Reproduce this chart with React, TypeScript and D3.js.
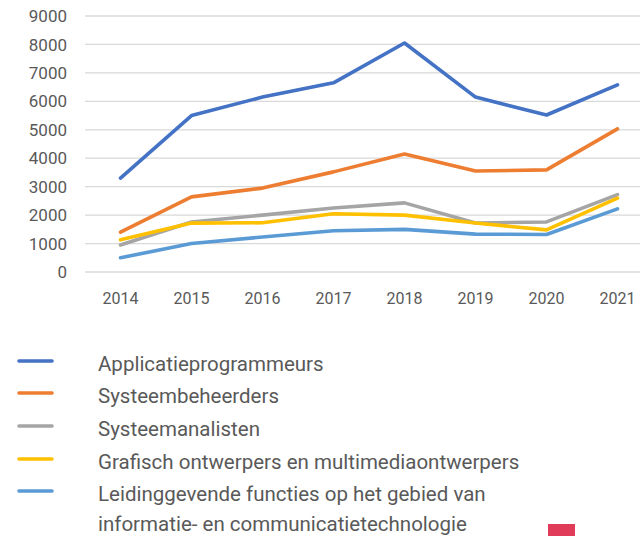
import React from "react";
import * as d3 from "d3";

const years = ["2014", "2015", "2016", "2017", "2018", "2019", "2020", "2021"];
const seriesNames = [
  "Applicatieprogrammeurs",
  "Systeembeheerders",
  "Systeemanalisten",
  "Grafisch ontwerpers en multimediaontwerpers",
  "Leidinggevende functies op het gebied van informatie- en communicatietechnologie",
];
const applicatieprogrammeurs = [3300, 5500, 6150, 6650, 8050, 6150, 5520, 6580];
const systeembeheerders = [1400, 2640, 2950, 3520, 4150, 3550, 3590, 5030];
const systeemanalisten = [950, 1760, 2000, 2250, 2430, 1720, 1760, 2720];
const grafischOntwerpers = [1130, 1720, 1730, 2050, 2000, 1720, 1480, 2600];
const leidinggevende = [500, 1000, 1230, 1450, 1500, 1330, 1320, 2220];
const yTicks = [0, 1000, 2000, 3000, 4000, 5000, 6000, 7000, 8000, 9000];
const colors = ["#4472C4", "#ED7D31", "#A5A5A5", "#FFC000", "#5B9BD5"];

const allSeries = [applicatieprogrammeurs, systeembeheerders, systeemanalisten, grafischOntwerpers, leidinggevende];

export default function App() {
  const W = 640, H = 536;
  const x = d3.scaleBand<string>().domain(years).range([85, 653]);
  const y = d3.scaleLinear().domain([0, 9000]).range([272, 16]);
  const line = d3
    .line<number>()
    .x((_, i) => (x(years[i]) as number) + x.bandwidth() / 2)
    .y((d) => y(d));
  const font = "Roboto, 'Noto Sans', sans-serif";
  const textColor = "#595959";
  const legendY = [361, 393, 426, 459, 491];
  const legendLines = [
    [seriesNames[0]],
    [seriesNames[1]],
    [seriesNames[2]],
    [seriesNames[3]],
    ["Leidinggevende functies op het gebied van", "informatie- en communicatietechnologie"],
  ];
  return (
    <svg width={W} height={H} style={{ position: "absolute", left: 0, top: 0 }} fontFamily={font}>
      <rect width={W} height={H} fill="#fff" />
      {yTicks.map((t) => (
        <g key={t}>
          <line x1={85} x2={653} y1={y(t)} y2={y(t)} stroke="#D9D9D9" strokeWidth={1.3} />
          <text x={67} y={y(t)} dy="0.36em" textAnchor="end" fontSize={17} fill={textColor}>
            {t}
          </text>
        </g>
      ))}
      {years.map((yr) => (
        <text key={yr} x={(x(yr) as number) + x.bandwidth() / 2} y={304} textAnchor="middle" fontSize={16} fill={textColor}>
          {yr}
        </text>
      ))}
      {allSeries.map((s, i) => (
        <path key={i} d={line(s) || ""} fill="none" stroke={colors[i]} strokeWidth={3.6} strokeLinejoin="round" strokeLinecap="round" />
      ))}
      {legendLines.map((lines, i) => (
        <g key={i}>
          <line x1={19} x2={52} y1={legendY[i]} y2={legendY[i]} stroke={colors[i]} strokeWidth={3.6} strokeLinecap="round" />
          {lines.map((l, j) => (
            <text key={j} x={98} y={legendY[i] + 3 + j * 30} dy="0.35em" fontSize={20.5} fill={textColor}>
              {l}
            </text>
          ))}
        </g>
      ))}
      <rect x={548} y={524} width={27} height={12} fill="#E03C5A" />
    </svg>
  );
}
